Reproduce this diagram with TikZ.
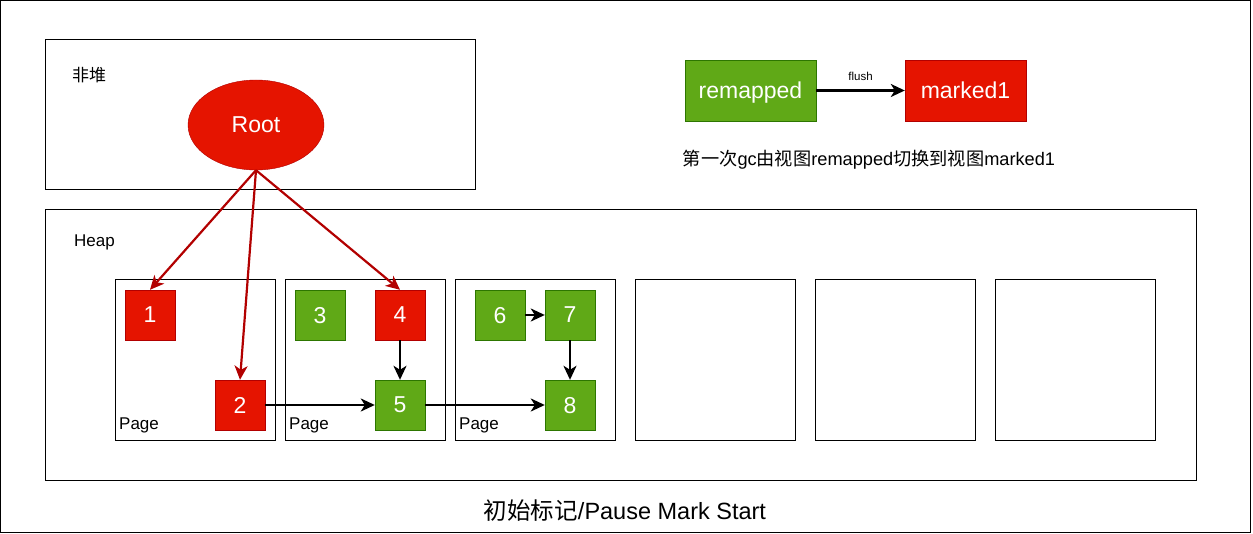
\documentclass[tikz,border=0pt]{standalone}
\usepackage{fontspec}
\setmainfont{Liberation Sans}
\newfontfamily\cjk{Noto Sans CJK SC}
\usetikzlibrary{arrows.meta,shapes.geometric}
\definecolor{objred}{HTML}{E51400}
\definecolor{objredline}{HTML}{B20000}
\definecolor{objgreen}{HTML}{60A917}
\definecolor{objgreenline}{HTML}{2D7600}
\begin{document}
\begin{tikzpicture}[x=1pt, y=-1pt,
    frame/.style={draw=black, line width=1pt},
    redobj/.style={draw=objredline, fill=objred, text=white, minimum size=50pt,
        inner sep=0pt, text depth=0pt, font=\fontsize{23}{27}\selectfont},
    greenobj/.style={draw=objgreenline, fill=objgreen, text=white, minimum size=50pt,
        inner sep=0pt, text depth=0pt, font=\fontsize{23}{27}\selectfont},
    ref/.style={-{Stealth[length=14pt, width=13pt, inset=4pt]}, line width=2.2pt, objredline},
    link/.style={-{Stealth[length=14pt, width=13pt, inset=4pt]}, line width=2.2pt, black},
    lbl/.style={anchor=west, inner sep=0pt, font=\fontsize{17}{20}\selectfont}]
    \useasboundingbox (0,0) rectangle (1253,534);
    % Outer frame
    \draw[frame] (0.5,1) rectangle (1250,532);
    % Non-heap area with the root
    \draw[frame] (45,40) rectangle (475,190);
    \node[lbl, font=\cjk\fontsize{17}{20}\selectfont] (nonheap) at (72,75) {非堆};
    \node[ellipse, draw=objredline, fill=objred, text=white, minimum width=136pt,
        minimum height=90pt, inner sep=0pt, font=\fontsize{23}{27}\selectfont]
        (root) at (256,125) {Root};
    % View switch legend
    \node[greenobj, minimum width=131pt, minimum height=61pt] (remapped) at (750.5,90.5) {remapped};
    \node[redobj, minimum width=121pt, minimum height=61pt] (marked) at (965.5,90.5) {marked1};
    \draw[link] (remapped) -- node[above=5pt, font=\fontsize{11.5}{13}\selectfont] {flush} (marked);
    \node[font=\fontsize{18.2}{22}\selectfont] (note) at (869,160)
        {{\cjk 第一次}gc{\cjk 由视图}remapped{\cjk 切换到视图}marked1};
    % Heap with its pages
    \draw[frame] (45,210) rectangle (1196,480);
    \node[lbl] (heap) at (74,242) {Heap};
    \foreach \px in {115,285,455,635,815,995} {
        \draw[frame] (\px,280) rectangle ++(160,160);
    }
    \foreach \px in {119,289,459} {
        \node[lbl] at (\px,425) {Page};
    }
    % Objects
    \node[redobj] (o1) at (150,315) {1};
    \node[redobj] (o2) at (240,405) {2};
    \node[greenobj] (o3) at (320,315) {3};
    \node[redobj] (o4) at (400,315) {4};
    \node[greenobj] (o5) at (400,405) {5};
    \node[greenobj] (o6) at (500,315) {6};
    \node[greenobj] (o7) at (570,315) {7};
    \node[greenobj] (o8) at (570,405) {8};
    % References from the root
    \foreach \obj in {o1,o2,o4} {
        \draw[ref] (root.south) -- (\obj.north);
    }
    % References between objects
    \draw[link] (o4) -- (o5);
    \draw[link] (o2) -- (o5);
    \draw[link] (o5) -- (o8);
    \draw[link] (o6) -- (o7);
    \draw[link] (o7) -- (o8);
    % Title
    \node[font=\fontsize{23.5}{28}\selectfont] (title) at (625,511)
        {{\cjk 初始标记}/Pause Mark Start};
\end{tikzpicture}
\end{document}
